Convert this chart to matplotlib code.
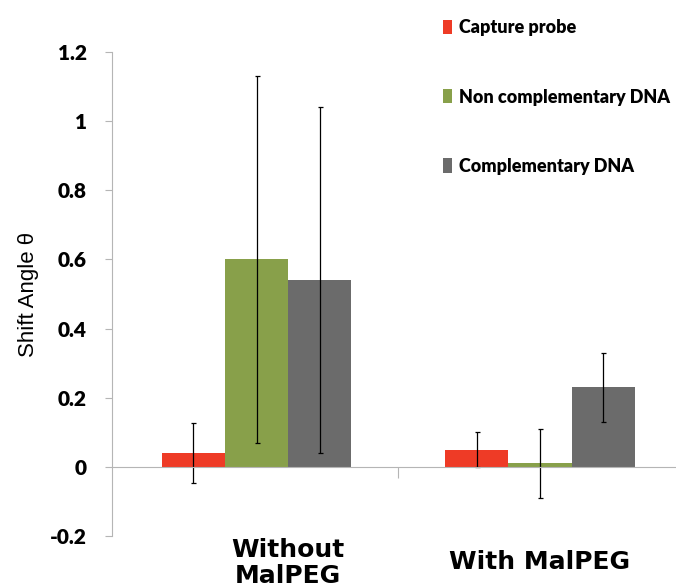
import numpy as np
import matplotlib
matplotlib.use("Agg")
import matplotlib.pyplot as plt

groups = ["Without\nMalPEG", "With MalPEG"]
series = ["Capture probe", "Non complementary DNA", "Complementary DNA"]
colors = ["#ee3b26", "#88a04a", "#6b6b6b"]

means = [
    [0.04, 0.05],   # capture probe
    [0.60, 0.01],   # non complementary DNA
    [0.54, 0.23],   # complementary DNA
]
errors = [
    [0.087, 0.05],
    [0.53, 0.10],
    [0.50, 0.10],
]

yticks = [-0.2, 0, 0.2, 0.4, 0.6, 0.8, 1, 1.2]
ytick_labels = ["-0.2", "0", "0.2", "0.4", "0.6", "0.8", "1", "1.2"]

narrow = ["Lato", "DejaVu Sans"]

fig = plt.figure(figsize=(6.76, 5.88), dpi=100)
ax = fig.add_axes([0.1657, 0.0884, 0.8343, 0.8232])

x = np.arange(len(groups))
width = 0.223

for i, (label, color) in enumerate(zip(series, colors)):
    ax.bar(x + (i - 1) * width, means[i], width, color=color, label=label,
           yerr=errors[i], zorder=2,
           error_kw=dict(ecolor="black", elinewidth=0.9, capsize=1.8, capthick=0.9))

ax.set_xlim(-0.51, 1.48)
ax.set_ylim(-0.2, 1.2)

ax.spines["top"].set_visible(False)
ax.spines["right"].set_visible(False)
ax.spines["left"].set_color("#b5b5b5")
ax.spines["bottom"].set_position(("data", 0))
ax.spines["bottom"].set_color("#b5b5b5")

ax.set_yticks(yticks)
ax.set_yticklabels(ytick_labels, family=narrow, fontweight="heavy", fontsize=15)
ax.tick_params(axis="y", direction="out", length=5, color="#b5b5b5", pad=13)

# single divider tick between the two groups
ax.set_xticks([0.5])
ax.set_xticklabels([""])
ax.tick_params(axis="x", direction="out", length=8, color="#b5b5b5")

ax.set_ylabel("Shift Angle \u03b8", fontsize=16, labelpad=8, family="Liberation Sans")

label_offsets = [0.11, 0.0]
label_y = [-0.278, -0.275]
for xi, name, off, ly in zip(x, groups, label_offsets, label_y):
    ax.text(xi + off, ly, name, ha="center", va="center", fontsize=18,
            fontweight="bold", family="DejaVu Sans", linespacing=1.08,
            clip_on=False)

fig.legend(loc="upper left", bbox_to_anchor=(0.631, 0.995), frameon=False,
           prop=dict(family=narrow, weight="heavy", size=13),
           handlelength=0.5, handleheight=0.85, handletextpad=0.4,
           labelspacing=2.9)

fig.savefig("out.png", dpi=100)
